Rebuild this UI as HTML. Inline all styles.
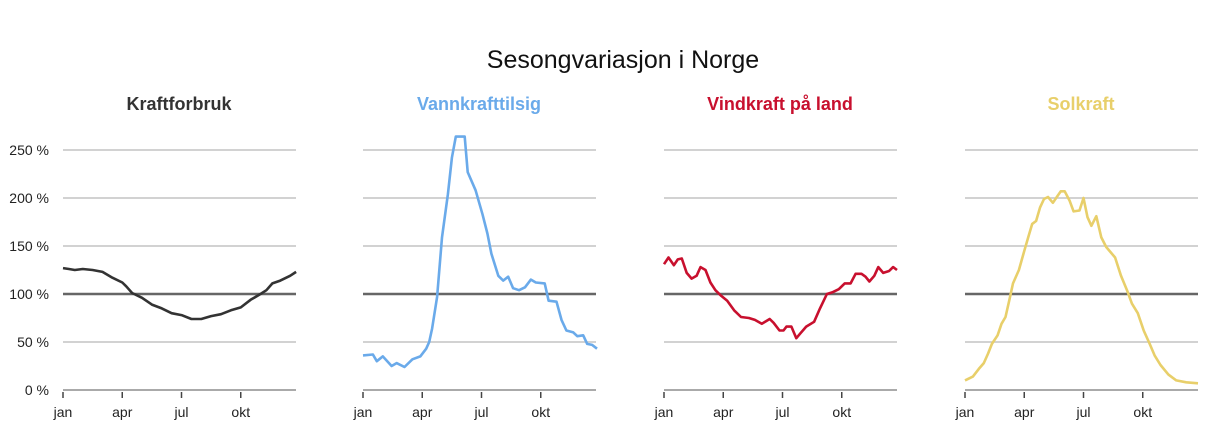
<!DOCTYPE html><html><head><meta charset="utf-8"><style>body{margin:0;background:#fff}svg{display:block;font-family:"Liberation Sans","DejaVu Sans",sans-serif}</style></head><body>
<svg id="s" width="1230" height="447" viewBox="0 0 1230 447"></svg>
<script>
const s=document.getElementById('s');let h='';
h+='<text x="623" y="68" font-size="25" text-anchor="middle" fill="#111">Sesongvariasjon i Norge</text>';
const M=19.75,Y=p=>390-p*0.96;
const P=[
{x:63,t:'Kraftforbruk',c:'#333333',d:[[0,127],[0.3,126],[0.6,125],[1,126],[1.5,125],[2,123],[2.5,117],[3,112],[3.2,108],[3.5,101],[4,96],[4.5,89],[5,85],[5.5,80],[6,78],[6.5,74],[7,74],[7.5,77],[8,79],[8.5,83],[9,86],[9.5,94],[10,100],[10.3,104],[10.6,111],[11,114],[11.5,119],[11.8,123]]},
{x:363,t:'Vannkrafttilsig',c:'#6aaaea',d:[[0,36],[0.5,37],[0.7,30],[1,35],[1.45,25],[1.7,28],[2.1,24],[2.5,32],[2.9,35],[3.2,43],[3.35,50],[3.5,64],[3.75,97],[4,159],[4.3,204],[4.5,242],[4.7,264],[4.9,264],[5.15,264],[5.3,227],[5.7,208],[6.05,183],[6.3,163],[6.5,142],[6.85,119],[7.1,114],[7.35,118],[7.6,106],[7.9,104],[8.2,107],[8.5,115],[8.75,112],[9.2,111],[9.4,93],[9.8,92],[10.05,73],[10.3,62],[10.65,60],[10.85,56],[11.15,57],[11.35,48],[11.6,47],[11.85,43]]},
{x:664,t:'Vindkraft på land',c:'#c8102e',d:[[0,131],[0.23,138],[0.5,130],[0.7,136],[0.9,137],[1.15,122],[1.4,116],[1.65,119],[1.85,128],[2.1,125],[2.35,112],[2.6,104],[2.9,98],[3.2,93],[3.55,83],[3.9,76],[4.3,75],[4.6,73],[4.95,69],[5.35,74],[5.55,70],[5.85,62],[6.05,62],[6.2,66],[6.45,66],[6.7,54],[6.9,59],[7.2,66],[7.6,71],[7.9,85],[8.25,100],[8.55,102],[8.85,105],[9.15,111],[9.45,111],[9.7,121],[10,121],[10.2,118],[10.4,113],[10.65,119],[10.85,128],[11.1,122],[11.4,124],[11.6,128],[11.8,125]]},
{x:965,t:'Solkraft',c:'#e8cf6a',d:[[0,10],[0.4,14],[0.7,22],[0.95,28],[1.17,38],[1.36,48],[1.65,57],[1.85,69],[2.05,76],[2.24,93],[2.43,111],[2.73,125],[3,145],[3.2,159],[3.4,173],[3.6,176],[3.8,190],[4,199],[4.2,201],[4.45,195],[4.65,201],[4.85,207],[5.05,207],[5.3,197],[5.5,186],[5.8,187],[6,200],[6.2,180],[6.4,171],[6.65,181],[6.9,159],[7.15,149],[7.6,138],[7.9,119],[8.2,104],[8.45,90],[8.75,80],[9.05,62],[9.35,48],[9.6,36],[9.9,26],[10.3,16],[10.7,10],[11.2,8],[11.8,7]]}];
P.forEach((p,i)=>{const x0=p.x,x1=x0+233;
h+=`<text x="${x0+116}" y="110" font-size="18" font-weight="bold" text-anchor="middle" fill="${p.c}">${p.t}</text>`;
[50,150,200,250].forEach(v=>h+=`<line x1="${x0}" x2="${x1}" y1="${Y(v)}" y2="${Y(v)}" stroke="#c4c4c4" stroke-width="1.5"/>`);
h+=`<line x1="${x0}" x2="${x1}" y1="${Y(100)}" y2="${Y(100)}" stroke="#666" stroke-width="2.5"/>`;
h+=`<line x1="${x0}" x2="${x1}" y1="390" y2="390" stroke="#aaa" stroke-width="2"/>`;
['jan','apr','jul','okt'].forEach((m,k)=>{const tx=x0+k*3*M;h+=`<line x1="${tx}" x2="${tx}" y1="392" y2="398" stroke="#444" stroke-width="1.5"/><text x="${tx}" y="417" font-size="14" text-anchor="middle" fill="#222">${m}</text>`;});
if(i==0)[0,50,100,150,200,250].forEach(v=>h+=`<text x="49" y="${Y(v)+5}" font-size="14" text-anchor="end" fill="#222">${v} %</text>`);
h+=`<polyline fill="none" stroke="${p.c}" stroke-width="2.6" stroke-linejoin="round" points="${p.d.map(q=>(x0+q[0]*M).toFixed(1)+','+Y(q[1]).toFixed(1)).join(' ')}"/>`;});
s.innerHTML=h;
</script></body></html>
